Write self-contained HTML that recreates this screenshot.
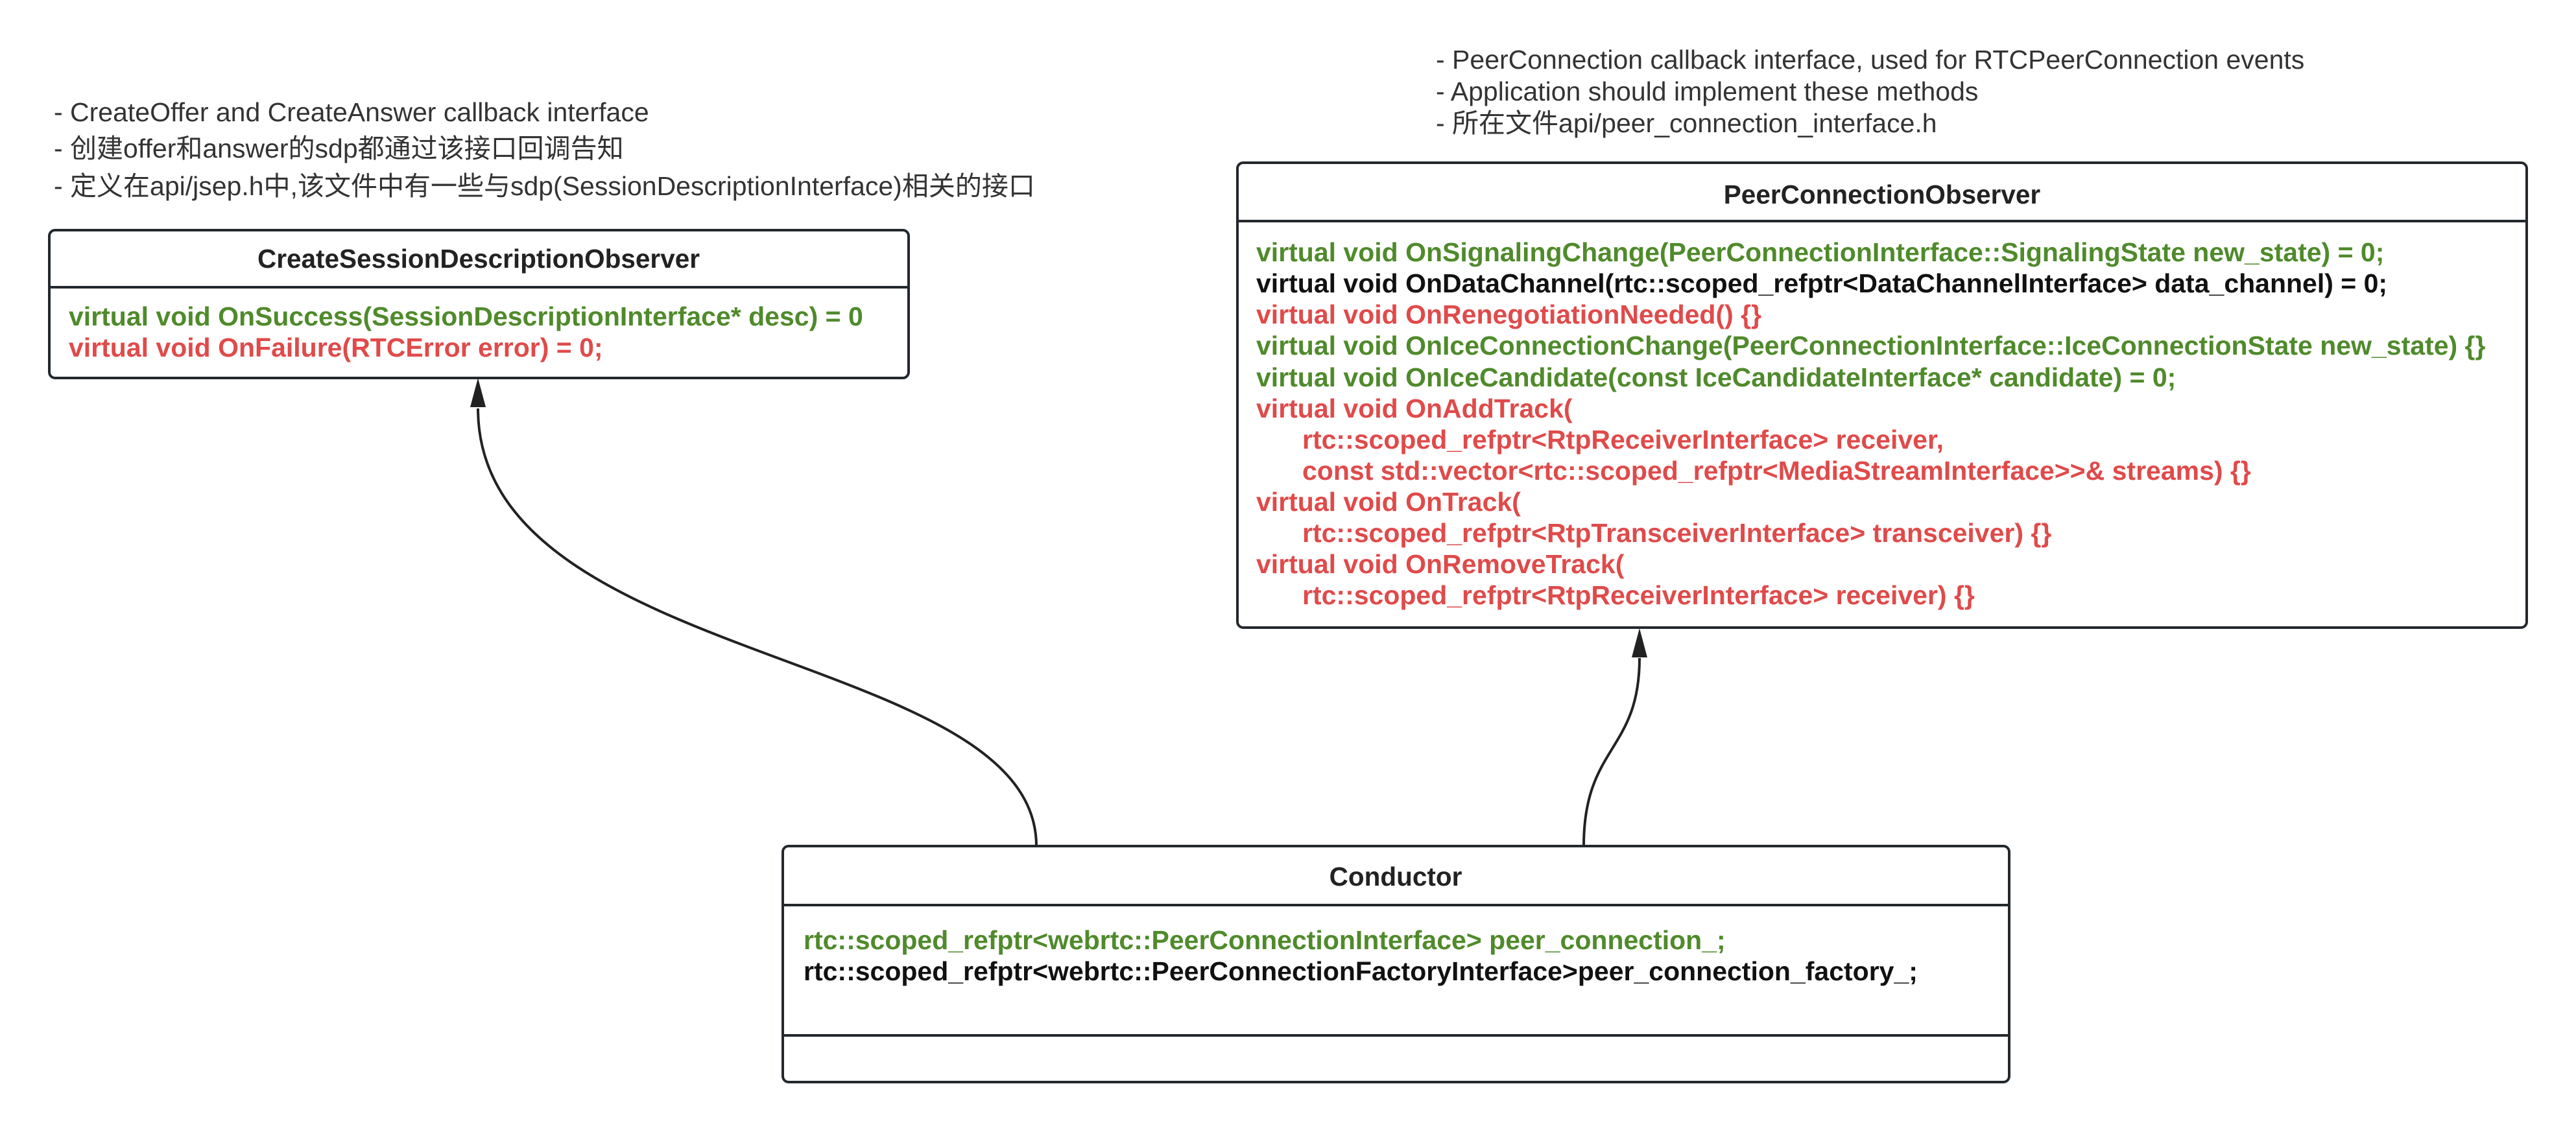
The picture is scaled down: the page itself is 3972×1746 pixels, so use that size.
<!DOCTYPE html>
<html><head><meta charset="utf-8"><style>
html,body{margin:0;padding:0;background:#fff;}
svg{display:block;}
text{font-family:"Liberation Sans","Noto Sans CJK SC",sans-serif;dominant-baseline:central;}
.n{font-size:41px;fill:#333;}
.t{font-size:40.5px;font-weight:bold;fill:#222;}
.m{font-size:41px;font-weight:bold;}
.g{fill:#4f8a2b;}
.r{fill:#e04a4a;}
.k{fill:#111;}
</style></head><body>
<svg width="3972" height="1746" viewBox="0 0 3972 1746" xmlns="http://www.w3.org/2000/svg">
<!-- connectors -->
<path d="M1598 1305 C1598 1000, 737 1030, 737 630" fill="none" stroke="#222" stroke-width="4"/>
<polygon points="737,583 725,628 749,628" fill="#222"/>
<path d="M2442 1305 C2442 1150, 2528 1160, 2528 1015" fill="none" stroke="#222" stroke-width="4"/>
<polygon points="2528,969 2516,1014 2540,1014" fill="#222"/>

<!-- left notes -->
<text class="n" x="83" y="173">- CreateOffer and CreateAnswer callback interface</text>
<text class="n" x="83" y="229">- 创建offer和answer的sdp都通过该接口回调告知</text>
<text class="n" x="83" y="287">- 定义在api/jsep.h中,该文件中有一些与sdp(SessionDescriptionInterface)相关的接口</text>

<!-- left box -->
<rect x="76" y="355" width="1325" height="228" rx="9" fill="#fff" stroke="#23282d" stroke-width="4"/>
<line x1="76" y1="443" x2="1401" y2="443" stroke="#23282d" stroke-width="4"/>
<text class="t" x="738" y="399" text-anchor="middle">CreateSessionDescriptionObserver</text>
<text class="m g" x="106" y="488">virtual void OnSuccess(SessionDescriptionInterface* desc) = 0</text>
<text class="m r" x="106" y="536">virtual void OnFailure(RTCError error) = 0;</text>

<!-- PCO notes -->
<text class="n" x="2214" y="92">- PeerConnection callback interface, used for RTCPeerConnection events</text>
<text class="n" x="2214" y="141">- Application should implement these methods</text>
<text class="n" x="2214" y="190">- 所在文件api/peer_connection_interface.h</text>

<!-- PCO box -->
<rect x="1908" y="251" width="1988" height="717" rx="9" fill="#fff" stroke="#23282d" stroke-width="4"/>
<line x1="1908" y1="341" x2="3896" y2="341" stroke="#23282d" stroke-width="4"/>
<text class="t" x="2902" y="300" text-anchor="middle">PeerConnectionObserver</text>
<text class="m g" x="1937" y="389">virtual void OnSignalingChange(PeerConnectionInterface::SignalingState new_state) = 0;</text>
<text class="m k" x="1937" y="437">virtual void OnDataChannel(rtc::scoped_refptr&lt;DataChannelInterface&gt; data_channel) = 0;</text>
<text class="m r" x="1937" y="485">virtual void OnRenegotiationNeeded() {}</text>
<text class="m g" x="1937" y="533">virtual void OnIceConnectionChange(PeerConnectionInterface::IceConnectionState new_state) {}</text>
<text class="m g" x="1937" y="582">virtual void OnIceCandidate(const IceCandidateInterface* candidate) = 0;</text>
<text class="m r" x="1937" y="630">virtual void OnAddTrack(</text>
<text class="m r" x="2008" y="678">rtc::scoped_refptr&lt;RtpReceiverInterface&gt; receiver,</text>
<text class="m r" x="2008" y="726">const std::vector&lt;rtc::scoped_refptr&lt;MediaStreamInterface&gt;&gt;&amp; streams) {}</text>
<text class="m r" x="1937" y="774">virtual void OnTrack(</text>
<text class="m r" x="2008" y="822">rtc::scoped_refptr&lt;RtpTransceiverInterface&gt; transceiver) {}</text>
<text class="m r" x="1937" y="870">virtual void OnRemoveTrack(</text>
<text class="m r" x="2008" y="918">rtc::scoped_refptr&lt;RtpReceiverInterface&gt; receiver) {}</text>

<!-- Conductor box -->
<rect x="1207" y="1305" width="1891" height="364" rx="9" fill="#fff" stroke="#23282d" stroke-width="4"/>
<line x1="1207" y1="1396" x2="3098" y2="1396" stroke="#23282d" stroke-width="4"/>
<line x1="1207" y1="1597" x2="3098" y2="1597" stroke="#23282d" stroke-width="4"/>
<text class="t" x="2152" y="1352" text-anchor="middle">Conductor</text>
<text class="m g" x="1239" y="1450">rtc::scoped_refptr&lt;webrtc::PeerConnectionInterface&gt; peer_connection_;</text>
<text class="m k" x="1239" y="1498">rtc::scoped_refptr&lt;webrtc::PeerConnectionFactoryInterface&gt;peer_connection_factory_;</text>
</svg>
</body></html>
